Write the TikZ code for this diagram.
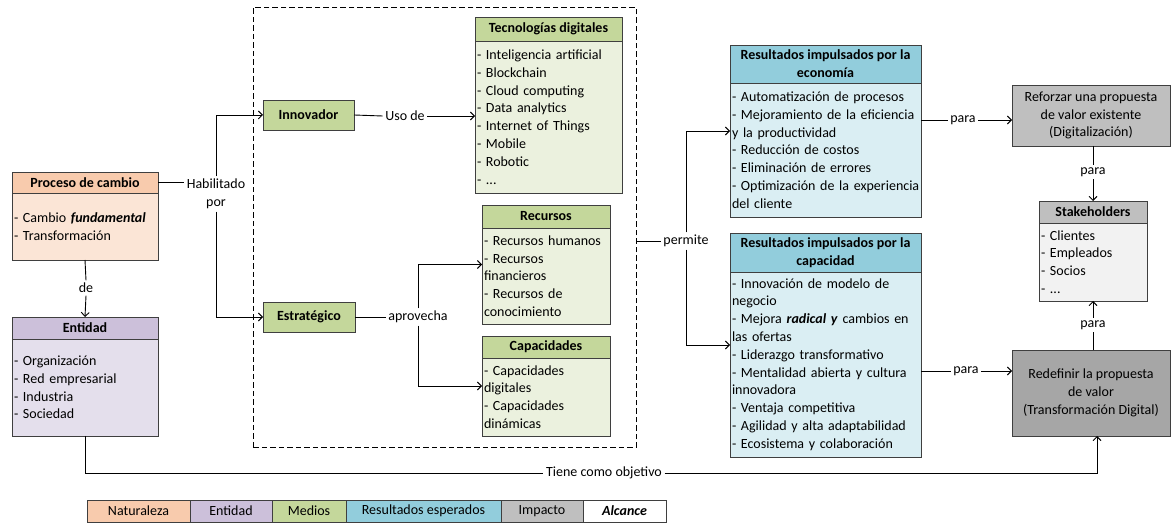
\documentclass[tikz,border=0pt]{standalone}
\usepackage{fontspec}
\setmainfont{Carlito}
\usetikzlibrary{arrows.meta,fit}

\definecolor{bordergray}{HTML}{3F3F3F}
\definecolor{orangeH}{HTML}{F8CBAD}
\definecolor{orangeB}{HTML}{FBE5D6}
\definecolor{purpleH}{HTML}{CCC0DA}
\definecolor{purpleB}{HTML}{E4DFEC}
\definecolor{greenH}{HTML}{C4D79B}
\definecolor{greenB}{HTML}{EBF1DE}
\definecolor{blueH}{HTML}{92CDDC}
\definecolor{blueB}{HTML}{DAEEF3}
\definecolor{grayA}{HTML}{BFBFBF}
\definecolor{grayB}{HTML}{A6A6A6}
\definecolor{grayC}{HTML}{F2F2F2}

% body font: no hyphenation, lines are broken by hand
\newcommand{\fs}{\fontsize{14}{17.8}\selectfont\hyphenpenalty=10000\exhyphenpenalty=10000\hbadness=10000\hfuzz=20pt}

\tikzset{
  base/.style={draw=bordergray, line width=0.9pt, inner sep=0pt, outer sep=0pt,
    font=\fs, anchor=north west},
  hdr/.style={base, font=\fs\bfseries, align=center},
  bdy/.style={base, align=left, inner xsep=2pt},
  solo/.style={base, align=center},
  lbl/.style={font=\fs, inner sep=2.5pt, align=center},
  conn/.style={line width=0.9pt, black},
  arr/.style={conn, -{Straight Barb[length=4pt,width=8pt]}},
  frame/.style={draw=black, line width=0.9pt, dash pattern=on 5.5pt off 3pt,
    inner sep=0pt, anchor=north west},
  legcell/.style={draw=bordergray, line width=0.9pt, minimum height=22pt,
    inner sep=0pt, outer sep=0pt, font=\fs, anchor=west},
  whole/.style={inner sep=0pt, outer sep=0pt}
}

\begin{document}
\begin{tikzpicture}[x=1pt, y=-1pt]
\useasboundingbox (0,0) rectangle (1171,529);

% ---------- Proceso de cambio ----------
\node[hdr, fill=orangeH, minimum width=146pt, minimum height=21pt] (proch) at (12,172) {Proceso de cambio};
\node[bdy, fill=orangeB, text width=142pt, minimum height=67pt] (procb) at (12,193)
  {- Cambio \textbf{\textit{fundamental}}\\- Transformación};

% ---------- Entidad ----------
\node[hdr, fill=purpleH, minimum width=146pt, minimum height=22pt] (enth) at (12,317) {Entidad};
\node[bdy, fill=purpleB, text width=142pt, minimum height=97pt] (entb) at (12,339)
  {- Organización\\- Red empresarial\\- Industria\\- Sociedad};

% ---------- Medios (dashed frame) ----------
\node[frame, minimum width=383pt, minimum height=440pt] (medios) at (253,7) {};

\node[solo, font=\fs\bfseries, fill=greenH, minimum width=91pt, minimum height=30pt] (innov) at (263,100) {Innovador};
\node[solo, font=\fs\bfseries, fill=greenH, minimum width=92pt, minimum height=30pt] (estr) at (263,302) {Estratégico};

\node[hdr, fill=greenH, minimum width=147pt, minimum height=24pt] (tech) at (475,17) {Tecnologías digitales};
\node[bdy, fill=greenB, text width=143pt, minimum height=152pt] (tecb) at (475,41)
  {- Inteligencia artificial\\- Blockchain\\- Cloud computing\\- Data analytics\\- Internet of Things\\- Mobile\\- Robotic\\- ...};

\node[hdr, fill=greenH, minimum width=128pt, minimum height=23pt] (rech) at (482,205) {Recursos};
\node[bdy, fill=greenB, text width=124pt, minimum height=96pt] (recb) at (482,228)
  {- Recursos humanos\\- Recursos\\financieros\\- Recursos de\\conocimiento};
\node[whole, fit=(rech)(recb)] (recursos) {};

\node[hdr, fill=greenH, minimum width=128pt, minimum height=22pt] (caph) at (482,336) {Capacidades};
\node[bdy, fill=greenB, text width=124pt, minimum height=78pt] (capb) at (482,358)
  {- Capacidades\\digitales\\- Capacidades\\dinámicas};
\node[whole, fit=(caph)(capb)] (capacidades) {};

% ---------- Resultados esperados ----------
\node[hdr, fill=blueH, minimum width=191pt, minimum height=38pt] (ecoh) at (730,45)
  {Resultados impulsados por la\\economía};
\node[bdy, fill=blueB, text width=187pt, minimum height=134pt] (ecob) at (730,83)
  {-~Automatización~de~procesos\\-~Mejoramiento~de~la~eficiencia\\y~la~productividad\\-~Reducción~de~costos\\-~Eliminación~de~errores\\-~Optimización~de~la~experiencia\\del~cliente};
\node[whole, fit=(ecoh)(ecob)] (economia) {};

\node[hdr, fill=blueH, minimum width=191pt, minimum height=39pt] (cdah) at (730,233)
  {Resultados impulsados por la\\capacidad};
\node[bdy, fill=blueB, text width=187pt, minimum height=185pt] (cdab) at (730,272)
  {-~Innovación~de~modelo~de\\negocio\\-~Mejora~\textbf{\textit{radical~y}}~cambios~en\\las~ofertas\\-~Liderazgo~transformativo\\-~Mentalidad~abierta~y~cultura\\innovadora\\-~Ventaja~competitiva\\-~Agilidad~y~alta~adaptabilidad\\-~Ecosistema~y~colaboración};
\node[whole, fit=(cdah)(cdab)] (capacidad) {};

% ---------- Impacto ----------
\node[solo, fill=grayA, minimum width=158pt, minimum height=61pt] (refor) at (1012,85)
  {Reforzar una propuesta\\de valor existente\\(Digitalización)};
\node[solo, fill=grayB, minimum width=158pt, minimum height=86pt] (redef) at (1012,350)
  {Redefinir la propuesta\\de valor\\(Transformación Digital)};

\node[hdr, fill=grayA, minimum width=108pt, minimum height=22pt] (stkh) at (1039,201) {Stakeholders};
\node[bdy, fill=grayC, text width=104pt, minimum height=78pt] (stkb) at (1039,223)
  {- Clientes\\- Empleados\\- Socios\\- ...};

% ---------- Connector labels ----------
\node[lbl] (hab) at (216,194) {Habilitado\\por};
\node[lbl] (de) at (86,288) {de};
\node[lbl] (uso) at (405,116) {Uso de};
\node[lbl] (apr) at (418,317) {aprovecha};
\node[lbl] (perm) at (686,241) {permite};
\node[lbl] (para1) at (963,120) {para};
\node[lbl] (para2) at (966,371) {para};
\node[lbl] (para3) at (1093,172) {para};
\node[lbl] (para4) at (1093,325) {para};
\node[lbl] (tiene) at (604,473) {Tiene como objetivo};

% ---------- Connectors ----------
\draw[conn] (proch.east) -- (proch.east -| hab.west);
\draw[arr] (hab.north) |- (innov.west);
\draw[arr] (hab.south) |- (estr.west);

\draw[conn] (procb.south) -- (de.north);
\draw[arr] (de.south) -- (enth.north);

\draw[conn] (innov.east) -- (uso.west);
\draw[arr] (uso.east) -- (uso.east -| tecb.west);

\draw[conn] (estr.east) -- (apr.west);
\draw[arr] (apr.north) |- (recursos.west);
\draw[arr] (apr.south) |- (capacidades.west);

\draw[conn] (perm.west) -- (perm.west -| medios.east);
\draw[arr] (perm.north) |- (economia.west);
\draw[arr] (perm.south) |- (capacidad.west);

\draw[conn] (para1.west -| ecob.east) -- (para1.west);
\draw[arr] (para1.east) -- (para1.east -| refor.west);
\draw[conn] (para2.west -| cdab.east) -- (para2.west);
\draw[arr] (para2.east) -- (para2.east -| redef.west);

\draw[conn] (para3.north |- refor.south) -- (para3.north);
\draw[arr] (para3.south) -- (stkh.north);
\draw[conn] (para4.south |- redef.north) -- (para4.south);
\draw[arr] (para4.north) -- (stkb.south);

\draw[conn] (entb.south) |- (tiene.west);
\draw[arr] (tiene.east) -| ([xshift=6pt]redef.south);

% ---------- Legend ----------
\node[legcell, fill=orangeH, minimum width=103pt] (lg1) at (87,511) {Naturaleza};
\node[legcell, fill=purpleH, minimum width=82pt] (lg2) at (lg1.east) {Entidad};
\node[legcell, fill=greenH, minimum width=74pt] (lg3) at (lg2.east) {Medios};
\node[legcell, fill=blueH, minimum width=155pt] (lg4) at (lg3.east) {Resultados esperados};
\node[legcell, fill=grayA, minimum width=82pt] (lg5) at (lg4.east) {Impacto};
\node[legcell, fill=white, minimum width=83pt, font=\fs\bfseries\itshape] (lg6) at (lg5.east) {Alcance};
\end{tikzpicture}
\end{document}
